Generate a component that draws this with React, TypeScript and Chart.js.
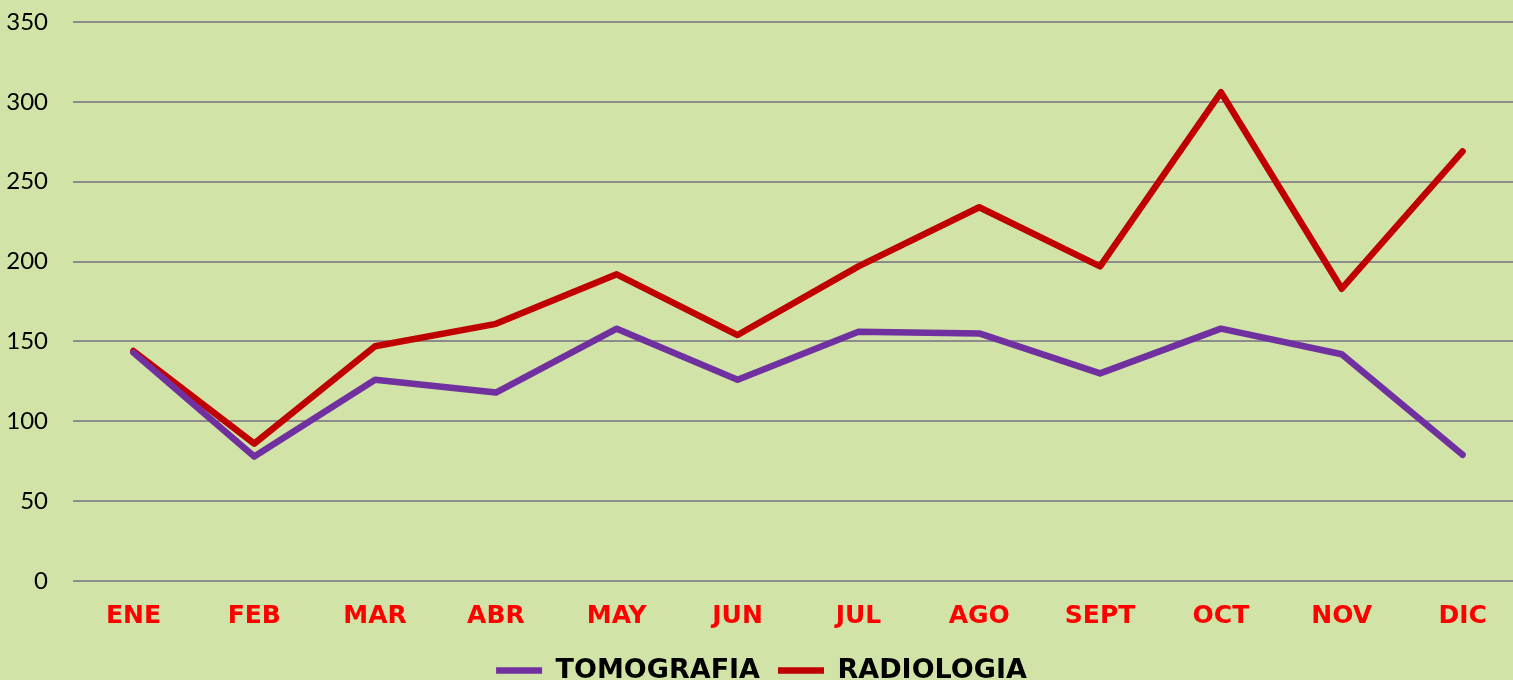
import React, { useEffect, useRef } from "react";
import { Chart, registerables } from "chart.js";

Chart.register(...registerables);

const months = ["ENE", "FEB", "MAR", "ABR", "MAY", "JUN", "JUL", "AGO", "SEPT", "OCT", "NOV", "DIC"];
const tomografia = [143, 78, 126, 118, 158, 126, 156, 155, 130, 158, 142, 79];
const radiologia = [144, 86, 147, 161, 192, 154, 197, 234, 197, 306, 183, 269];
const yMax = 350;
const yStep = 50;

export default function App() {
  const ref = useRef<HTMLCanvasElement | null>(null);
  useEffect(() => {
    if (!ref.current) return;
    const chart = new Chart(ref.current, {
      type: "line",
      data: {
        labels: months,
        datasets: [
          {
            label: "TOMOGRAFIA",
            data: tomografia,
            borderColor: "#7030a0",
            backgroundColor: "#7030a0",
            borderWidth: 6.5,
            pointRadius: 0,
            tension: 0,
            borderCapStyle: "round",
            borderJoinStyle: "round",
          },
          {
            label: "RADIOLOGIA",
            data: radiologia,
            borderColor: "#c00000",
            backgroundColor: "#c00000",
            borderWidth: 6.5,
            pointRadius: 0,
            tension: 0,
            borderCapStyle: "round",
            borderJoinStyle: "round",
          },
        ],
      },
      options: {
        animation: false,
        responsive: false,
        layout: { padding: { top: 22, left: 0, right: 0, bottom: 0 } },
        plugins: {
          tooltip: { enabled: false },
          legend: {
            position: "bottom",
            maxHeight: 41,
            labels: {
              usePointStyle: true,
              pointStyle: "line",
              pointStyleWidth: 46,
              padding: 18,
              color: "#000000",
              font: { family: "DejaVu Sans", weight: "bold", size: 27 },
            },
          },
        },
        scales: {
          x: {
            offset: true,
            grid: { display: false, drawTicks: false },
            border: { display: false },
            ticks: {
              color: "#ff0000",
              padding: 20,
              font: { family: "DejaVu Sans", weight: "bold", size: 25 },
              maxRotation: 0,
              autoSkip: false,
            },
            afterFit: (s: any) => {
              s.height = 58;
            },
          },
          y: {
            min: 0,
            max: yMax,
            ticks: {
              stepSize: yStep,
              color: "#000000",
              padding: 25,
              font: { family: "Lato", size: 24 },
            },
            grid: { color: "#8c8c8c", lineWidth: 2, drawTicks: false },
            border: { display: false },
            afterFit: (s: any) => {
              s.width = 73;
              s.paddingTop = 0;
              s.paddingBottom = 0;
            },
          },
        },
      },
    });
    return () => chart.destroy();
  }, []);
  return (
    <div
      style={{
        position: "fixed",
        top: 0,
        left: 0,
        width: 1513,
        height: 680,
        overflow: "hidden",
        background: "#d1e3a7",
      }}
    >
      <canvas ref={ref} width={1523} height={680} style={{ display: "block" }} />
    </div>
  );
}
